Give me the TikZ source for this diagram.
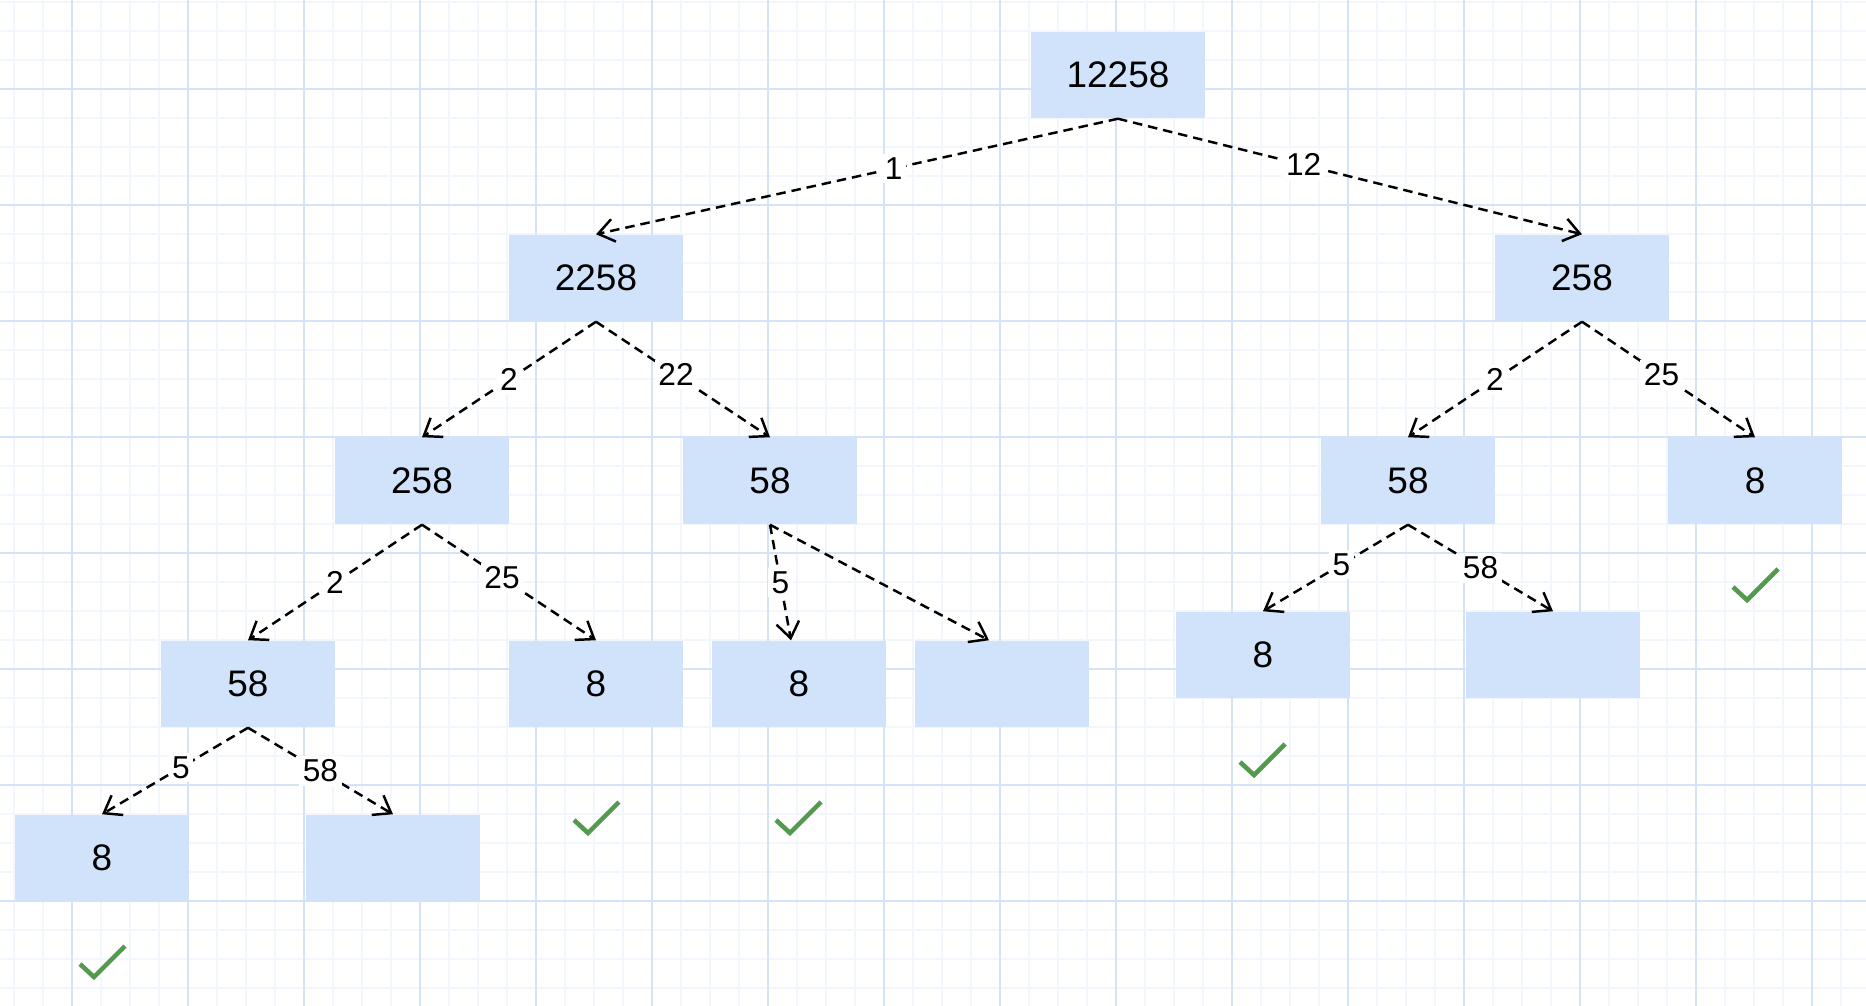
\documentclass[tikz,border=0pt]{standalone}
\usepackage{fontspec}
\setmainfont{Liberation Sans}
\usetikzlibrary{arrows.meta}

\definecolor{gridminor}{RGB}{242,247,253}
\definecolor{gridmajor}{RGB}{212,227,246}
\definecolor{boxblue}{RGB}{208,227,250}
\definecolor{tickgreen}{RGB}{84,154,78}

\begin{document}
\begin{tikzpicture}[x=0.01cm,y=-0.01cm,
		box/.style={fill=boxblue,minimum width=1.74cm,minimum height=0.86cm,inner sep=0pt,font=\fontsize{10.5}{12}\selectfont},
		edge/.style={line width=0.7pt,dash pattern=on 2.7pt off 1.7pt,-{Straight Barb[length=4.5pt,width=6.5pt]}},
		elabel/.style={fill=white,inner sep=1pt,font=\fontsize{9}{10}\selectfont},
		tick/.style={tickgreen,line width=1.3pt}]
		\useasboundingbox (0,0) rectangle (1866,1006);
		\fill [white] (0,0) rectangle (1866,1006);
		% grid paper
		\foreach \x in {14,43,...,1866} \draw [gridminor,line width=0.45pt] (\x,0) -- (\x,1006);
		\foreach \y in {2,31,...,1006} \draw [gridminor,line width=0.45pt] (0,\y) -- (1866,\y);
		\foreach \x in {72,188,...,1866} \draw [gridmajor,line width=0.3pt] (\x,0) -- (\x,1006);
		\foreach \y in {89,205,...,1006} \draw [gridmajor,line width=0.3pt] (0,\y) -- (1866,\y);
		% boxes
		\node [box] (root) at (1118,75) {12258};
		\node [box] (a) at (596,278) {2258};
		\node [box] (b) at (1582,278) {258};
		\node [box] (aa) at (422,481) {258};
		\node [box] (ab) at (770,481) {58};
		\node [box] (ba) at (1408,481) {58};
		\node [box] (bb) at (1755,481) {8};
		\node [box] (aaa) at (248,684) {58};
		\node [box] (aab) at (596,684) {8};
		\node [box] (aba) at (799,684) {8};
		\node [box] (abb) at (1002,684) {};
		\node [box] (baa) at (1263,655) {8};
		\node [box] (bab) at (1553,655) {};
		\node [box] (aaaa) at (102,858) {8};
		\node [box] (aaab) at (393,858) {};
		% cuts
		\draw [edge] (root.south) -- node [elabel,pos=0.43] {1} (a.north);
		\draw [edge] (root.south) -- node [elabel,pos=0.4] {12} (b.north);
		\draw [edge] (a.south) -- node [elabel] {2} (aa.north);
		\draw [edge] (a.south) -- node [elabel,pos=0.46] {22} (ab.north);
		\draw [edge] (b.south) -- node [elabel] {2} (ba.north);
		\draw [edge] (b.south) -- node [elabel,pos=0.46] {25} (bb.north);
		\draw [edge] (aa.south) -- node [elabel] {2} (aaa.north);
		\draw [edge] (aa.south) -- node [elabel,pos=0.46] {25} (aab.north);
		\draw [edge] (ab.south) -- node [elabel] {5} ([xshift=-0.08cm]aba.north);
		\draw [edge] (ab.south) -- ([xshift=-0.13cm]abb.north);
		\draw [edge] (ba.south) -- node [elabel,pos=0.46] {5} (baa.north);
		\draw [edge] (ba.south) -- node [elabel] {58} (bab.north);
		\draw [edge] (aaa.south) -- node [elabel,pos=0.46] {5} (aaaa.north);
		\draw [edge] (aaa.south) -- node [elabel] {58} (aaab.north);
		% ticks
		\coordinate (t1) at (102,961);
		\coordinate (t2) at (596,817);
		\coordinate (t3) at (798,817);
		\coordinate (t4) at (1262,759);
		\coordinate (t5) at (1755,584);
		\draw [tick] (t1) +(-22,3) -- +(-8,16) -- +(23,-15);
		\draw [tick] (t2) +(-22,3) -- +(-8,16) -- +(23,-15);
		\draw [tick] (t3) +(-22,3) -- +(-8,16) -- +(23,-15);
		\draw [tick] (t4) +(-22,3) -- +(-8,16) -- +(23,-15);
		\draw [tick] (t5) +(-22,3) -- +(-8,16) -- +(23,-15);
\end{tikzpicture}
\end{document}
